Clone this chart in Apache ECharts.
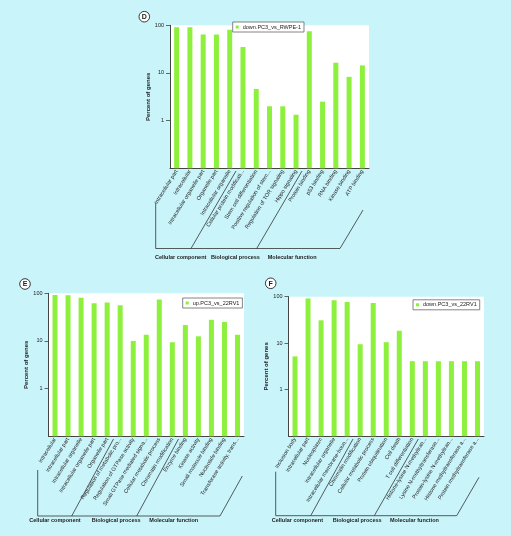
<!DOCTYPE html>
<html><head><meta charset="utf-8">
<script src="https://cdn.jsdelivr.net/npm/echarts@6/dist/echarts.min.js"></script>
<style>html,body{margin:0;padding:0;background:#c8f4fa}#c{width:511px;height:536px}</style>
</head><body><div id="c"></div>
<script>
// ---- data ----
const catsD = ['Intracellular part','Intracellular','Intracellular organelle part','Organelle part','Intracellular organelle','Cellular protein modificati...','Stem cell differentiation','Positive regulation of stem...','Regulation of TOR signaling','Hippo signaling','Protein binding','p53 binding','RNA binding','Kinase binding','ATP binding'];
const valsD = [91, 91, 64, 64, 81, 35, 4.6, 2.0, 2.0, 1.33, 75, 2.5, 16.4, 8.3, 14.4];
const nameD = 'down.PC3_vs_RWPE-1';

const catsE = ['Intracellular','Intracellular part','Intracellular organelle','Intracellular organelle part','Organelle part','Regulation of metabolic pro...','Regulation of GTPase activity','Small GTPase mediated signa...','Cellular metabolic process','Chromatin modification','Enzyme binding','Kinase activity','Small molecule binding','Nucleotide binding','Transferase activity, trans...'];
const valsE = [92, 91, 81, 62, 64, 56, 10, 13.5, 74, 9.4, 21.5, 12.5, 27.8, 25, 13.5];
const nameE = 'up.PC3_vs_22RV1';

const catsF = ['Inclusion body','Intracellular part','Nucleoplasm','Intracellular organelle','Intracellular membrane-boun...','Chromatin modification','Cellular metabolic process','Protein ubiquitination','Cell death','T cell differentiation','Histone-lysine N-methyltran...','Lysine N-methyltransferase...','Protein-lysine N-methyltran...','Histone methyltransferase a...','Protein methyltransferase a...'];
const valsF = [5.2, 91, 31, 84, 77, 9.5, 73, 10.5, 18.5, 4.1, 4.1, 4.1, 4.1, 4.1, 4.1];
const nameF = 'down.PC3_vs_22RV1';

const yTicks = [1, 10, 100];
const yMin = 0.1, yMax = 100;
const yName = 'Percent of genes';
const groupNames = ['Cellular component', 'Biological process', 'Molecular function'];
const panelLetters = ['D', 'E', 'F'];

// ---- styling ----
const FONT = '"Liberation Sans", Arial, sans-serif';
const BAR = '#8cf03c';
const INK = '#222';

const panels = [
  {cats: catsD, vals: valsD, name: nameD, grid: {left: 170, top: 25.3, width: 199, height: 143},
   legend: {left: 232.7, top: 22},
   letter: [144.3, 16.7],
   br: {vx: 155.7, vy0: 203, yb: 248.5, xr: 340, d1: [191, 236, 171], d2: [256.7, 302, 171], re: [363, 210], ly: 257.7, lx: [155, 211, 267.7]}},
  {cats: catsE, vals: valsE, name: nameE, grid: {left: 48.5, top: 293.3, width: 195.5, height: 143},
   legend: {left: 182.7, top: 298},
   letter: [25, 284],
   br: {vx: 37.7, vy0: 470, yb: 516, xr: 220, d1: [71.7, 113.5, 439], d2: [136.7, 178.5, 439], re: [242.3, 476], ly: 520.7, lx: [29.3, 91.7, 149.3]}},
  {cats: catsF, vals: valsF, name: nameF, grid: {left: 288.5, top: 296.7, width: 195.5, height: 139.5},
   legend: {left: 413, top: 299.8},
   letter: [270.7, 283.3],
   br: {vx: 275.7, vy0: 471.7, yb: 515.7, xr: 456.7, d1: [310.7, 353, 439], d2: [374.3, 418.3, 439], re: [479, 477.3], ly: 520.7, lx: [271.7, 332.7, 390]}}
];

const grid = [], xAxis = [], yAxis = [], series = [], legend = [], graphic = [];

panels.forEach((p, i) => {
  grid.push(Object.assign({show: true, backgroundColor: '#ffffff', borderWidth: 0, containLabel: false}, p.grid));
  xAxis.push({
    type: 'category', gridIndex: i, data: p.cats,
    axisLine: {lineStyle: {color: '#444', width: 1}},
    axisTick: {alignWithLabel: true, length: 3, lineStyle: {color: '#444', width: 0.8}},
    axisLabel: {interval: 0, rotate: 58, margin: 2, fontSize: 5.5, color: INK, fontFamily: FONT}
  });
  yAxis.push({
    type: 'log', logBase: 10, gridIndex: i, min: yMin, max: yMax,
    name: yName, nameLocation: 'middle', nameGap: 16,
    nameTextStyle: {fontSize: 6, fontWeight: 'bold', color: INK, fontFamily: FONT},
    axisLine: {show: true, onZero: false, lineStyle: {color: '#444', width: 1}},
    axisTick: {show: true, length: 4, customValues: yTicks, lineStyle: {color: '#444', width: 0.8}},
    axisLabel: {customValues: yTicks, fontSize: 5.5, color: INK, fontFamily: FONT, margin: 6,
      formatter: v => String(Math.round(v))},
    splitLine: {show: false}, minorTick: {show: false}
  });
  series.push({
    type: 'custom', name: p.name, xAxisIndex: i, yAxisIndex: i,
    itemStyle: {color: BAR},
    data: p.vals.map((v, k) => [k, v]),
    encode: {x: 0, y: 1},
    renderItem: function (params, api) {
      const idx = api.value(0), v = api.value(1);
      const top = api.coord([idx, v]);
      const base = api.coord([idx, yMin]);
      const w = 5;
      return {type: 'rect', shape: {x: top[0] - w / 2, y: top[1], width: w, height: base[1] - top[1]},
        style: {fill: BAR}};
    }
  });
  legend.push({
    data: [{name: p.name, icon: 'rect', itemStyle: {color: BAR}}],
    left: p.legend.left, top: p.legend.top, orient: 'horizontal',
    padding: [2, 3, 2, 3], itemWidth: 3, itemHeight: 3, itemGap: 2,
    backgroundColor: '#ffffff', borderColor: '#666', borderWidth: 0.8, borderRadius: 0,
    selectedMode: false,
    textStyle: {fontSize: 5.5, color: INK, fontFamily: FONT, padding: [0, 0, 0, -1]}
  });

  // panel letter
  graphic.push({type: 'circle', shape: {cx: p.letter[0], cy: p.letter[1], r: 5.3},
    style: {fill: '#fff', stroke: INK, lineWidth: 0.9}, z: 10});
  graphic.push({type: 'text', x: p.letter[0], y: p.letter[1] + 0.3, z: 11,
    style: {text: panelLetters[i], fill: INK, fontSize: 7, fontWeight: 'bold', fontFamily: FONT, align: 'center', verticalAlign: 'middle'}});

  // group bracket
  const b = p.br;
  const ls = {stroke: '#333', lineWidth: 0.8, fill: null};
  graphic.push({type: 'polyline', shape: {points: [[b.vx, b.vy0], [b.vx, b.yb], [b.xr, b.yb], [b.re[0], b.re[1]]]}, style: ls, z: 5});
  graphic.push({type: 'line', shape: {x1: b.d1[0], y1: b.yb, x2: b.d1[1], y2: b.d1[2]}, style: ls, z: 5});
  graphic.push({type: 'line', shape: {x1: b.d2[0], y1: b.yb, x2: b.d2[1], y2: b.d2[2]}, style: ls, z: 5});
  groupNames.forEach((g, k) => {
    graphic.push({type: 'text', x: b.lx[k], y: b.ly, z: 5,
      style: {text: g, fill: INK, fontSize: 5.5, fontWeight: 'bold', fontFamily: FONT, align: 'left', verticalAlign: 'middle'}});
  });
});

const chart = echarts.init(document.getElementById('c'), null, {renderer: 'canvas'});
chart.setOption({
  backgroundColor: '#c8f4fa',
  animation: false,
  grid, xAxis, yAxis, series, legend, graphic
});
</script>
</body></html>
